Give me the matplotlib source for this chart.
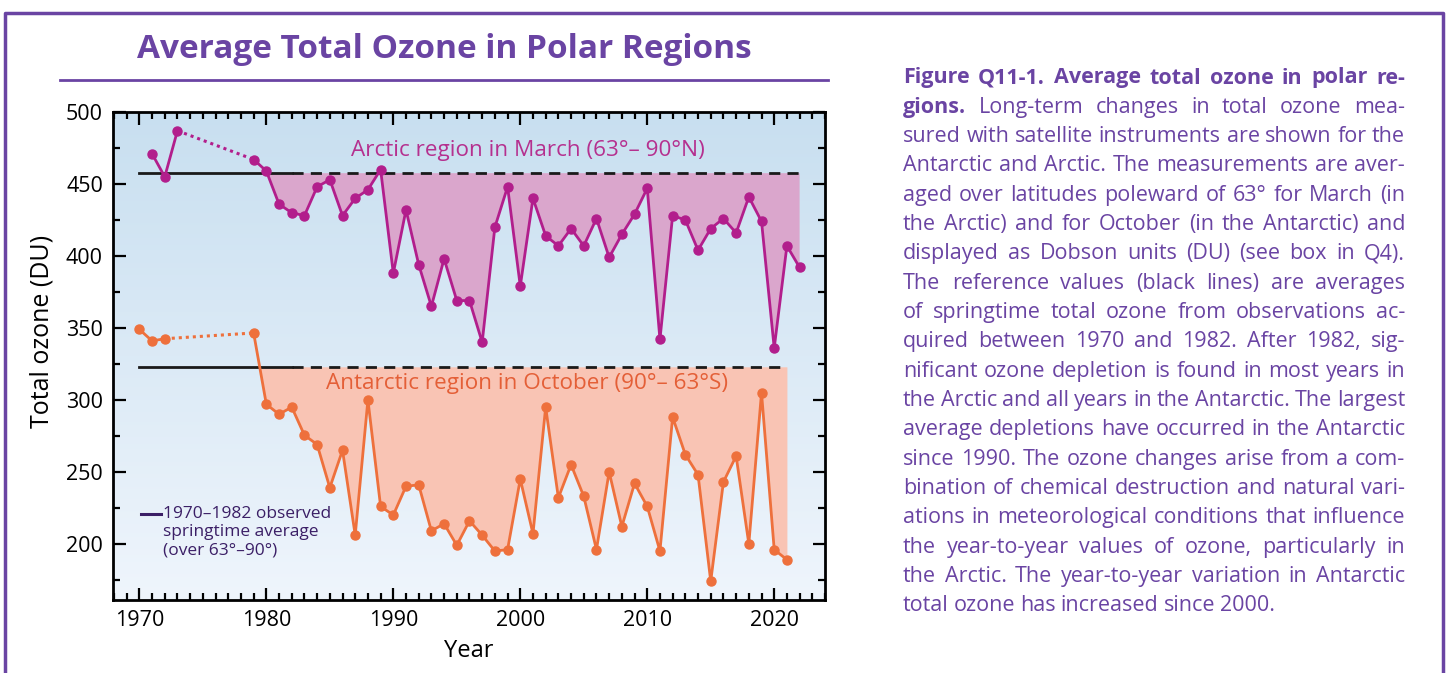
import numpy as np
import matplotlib
matplotlib.use('Agg')
from matplotlib import pyplot as plt
from matplotlib.lines import Line2D
from matplotlib.colors import LinearSegmentedColormap
from matplotlib.ticker import MultipleLocator

plt.rcParams['font.family'] = ['Open Sans', 'DejaVu Sans']

# Arctic, March (63-90N)
arctic_years = [1971, 1972, 1973] + list(range(1979, 2023))
arctic_vals = [471, 455, 487,
               467, 459, 436, 430, 428, 448, 453, 428, 440, 446, 460,
               388, 432, 394, 365, 398, 369, 369, 340, 420, 448,
               379, 440, 414, 407, 419, 407, 426, 399, 415, 429,
               447, 342, 428, 425, 404, 419, 426, 416, 441, 424,
               336, 407, 392]

# Antarctic, October (90-63S)
antarctic_years = [1970, 1971, 1972] + list(range(1979, 2022))
antarctic_vals = [349, 341, 342.5,
                  346.5, 297, 290, 295, 275.5, 269, 239, 265, 206, 300, 226,
                  220, 240, 241, 209, 214, 199, 216, 206, 195, 196,
                  245, 207, 295, 232, 255, 233, 196, 250, 212, 242,
                  226, 195, 288, 262, 248, 174, 243, 261, 200, 305,
                  196, 189]

# 1970-1982 springtime reference averages
arctic_ref = 457.5
antarctic_ref = 323

caption_lines = [
    "Figure Q11-1. Average total ozone in polar re-",
    "gions. Long-term changes in total ozone mea-",
    "sured with satellite instruments are shown for the",
    "Antarctic and Arctic. The measurements are aver-",
    "aged over latitudes poleward of 63\u00b0 for March (in",
    "the Arctic) and for October (in the Antarctic) and",
    "displayed as Dobson units (DU) (see box in Q4).",
    "The reference values (black lines) are averages",
    "of springtime total ozone from observations ac-",
    "quired between 1970 and 1982. After 1982, sig-",
    "nificant ozone depletion is found in most years in",
    "the Arctic and all years in the Antarctic. The largest",
    "average depletions have occurred in the Antarctic",
    "since 1990. The ozone changes arise from a com-",
    "bination of chemical destruction and natural vari-",
    "ations in meteorological conditions that influence",
    "the year-to-year values of ozone, particularly in",
    "the Arctic. The year-to-year variation in Antarctic",
    "total ozone has increased since 2000.",
]
bold_words = [8, 1]

PURPLE = '#6a44a3'
W, H = 1448, 673

fig = plt.figure(figsize=(W / 100, H / 100), dpi=100)
ax = fig.add_axes([112.7 / W, 1 - 600 / H, 712.3 / W, 488 / H])

# background gradient
grad = np.linspace(0, 1, 256).reshape(-1, 1)
bg = LinearSegmentedColormap.from_list('bg', ['#c8dff0', '#eff5fc'])
ax.imshow(grad, cmap=bg, aspect='auto', extent=[1967.9, 2024, 161, 500],
          origin='upper', zorder=0)


def draw_series(years, vals, ref, end_year, line_c, fill_c):
    years = np.array(years, dtype=float)
    vals = np.array(vals, dtype=float)
    early = years < 1979
    late = ~early
    # fill below reference after 1979
    ax.fill_between(years[late], vals[late], ref, where=vals[late] < ref,
                    interpolate=True, color=fill_c, lw=0, zorder=1)
    ax.plot([1970, 1982], [ref, ref], color='#1a1a1a', lw=2, zorder=2)
    ax.plot([1982, end_year], [ref, ref], color='#1a1a1a', lw=2,
            dashes=(4, 2.6), zorder=2)
    ax.plot(years[early], vals[early], color=line_c, lw=2, zorder=3,
            marker='o', ms=6.5)
    ax.plot([years[early][-1], years[late][0]], [vals[early][-1], vals[late][0]],
            color=line_c, lw=2.2, ls=(0, (1, 1.3)), zorder=3)
    ax.plot(years[late], vals[late], color=line_c, lw=2, zorder=3,
            marker='o', ms=6.5)


draw_series(arctic_years, arctic_vals, arctic_ref, 2022, '#b21e8c', '#daa6cc')
draw_series(antarctic_years, antarctic_vals, antarctic_ref, 2021, '#ee703c', '#f9c4b4')

ax.text(2000.6, 473.5, 'Arctic region in March (63\u00b0\u2013 90\u00b0N)',
        color='#b5308f', fontsize=16.2, ha='center', va='center', zorder=4)
ax.text(2000.5, 311.5, 'Antarctic region in October (90\u00b0\u2013 63\u00b0S)',
        color='#e45f37', fontsize=16.2, ha='center', va='center', zorder=4)

# legend note
ax.plot([1970.1, 1971.7], [220.7, 220.7], color='#3b1f66', lw=2.2, zorder=4)
ax.text(1971.9, 220.7, '1970\u20131982 observed', color='#3b1f66',
        fontsize=12.5, ha='left', va='center', zorder=4)
ax.text(1971.9, 208.2, 'springtime average', color='#3b1f66',
        fontsize=12.5, ha='left', va='center', zorder=4)
ax.text(1971.9, 195.7, '(over 63\u00b0\u201390\u00b0)', color='#3b1f66',
        fontsize=12.5, ha='left', va='center', zorder=4)

ax.set_xlim(1967.9, 2024)
ax.set_ylim(161, 500)
ax.xaxis.set_major_locator(MultipleLocator(10))
ax.xaxis.set_minor_locator(MultipleLocator(1))
ax.yaxis.set_major_locator(MultipleLocator(50))
ax.yaxis.set_minor_locator(MultipleLocator(25))
ax.set_yticks([200, 250, 300, 350, 400, 450, 500])
ax.tick_params(which='both', direction='in', top=True, right=True, width=1.6,
               labelsize=15.5, colors='black')
ax.tick_params(which='major', length=9, pad=7)
ax.tick_params(which='minor', length=5)
for s in ax.spines.values():
    s.set_linewidth(2)

ax.set_xlabel('Year', fontsize=17)
ax.set_ylabel('Total ozone (DU)', fontsize=18)
ax.yaxis.set_label_coords(-0.082, 0.55)
ax.xaxis.set_label_coords(0.5, -0.08)

# title and underline
fig.text(444 / W, 1 - 50 / H, 'Average Total Ozone in Polar Regions',
         fontsize=24, fontweight='bold', color=PURPLE, ha='center', va='center')
fig.add_artist(Line2D([60 / W, 828 / W], [1 - 80 / H, 1 - 80 / H],
                      color=PURPLE, lw=2))

# purple frame
fig.add_artist(Line2D([5 / W, 5 / W, 1443 / W, 1443 / W],
                      [0, 1 - 13 / H, 1 - 13 / H, 0], color=PURPLE, lw=2.5))

# justified caption
renderer = fig.canvas.get_renderer()
x0, x1 = 903, 1405
for i, line in enumerate(caption_lines):
    y = 1 - (78 + i * 29.33) / H
    words = line.split(' ')
    nb = bold_words[i] if i < len(bold_words) else 0
    texts = []
    for j, wd in enumerate(words):
        t = fig.text(0, y, wd, fontsize=15.5, color=PURPLE, va='center',
                     fontweight='bold' if j < nb else 'normal')
        texts.append(t)
    widths = [t.get_window_extent(renderer).width for t in texts]
    if i == len(caption_lines) - 1:
        gap = 5
    else:
        gap = (x1 - x0 - sum(widths)) / max(len(words) - 1, 1)
    x = x0
    for t, w in zip(texts, widths):
        t.set_x(x / W)
        x += w + gap

fig.savefig('out.png', dpi=100)
